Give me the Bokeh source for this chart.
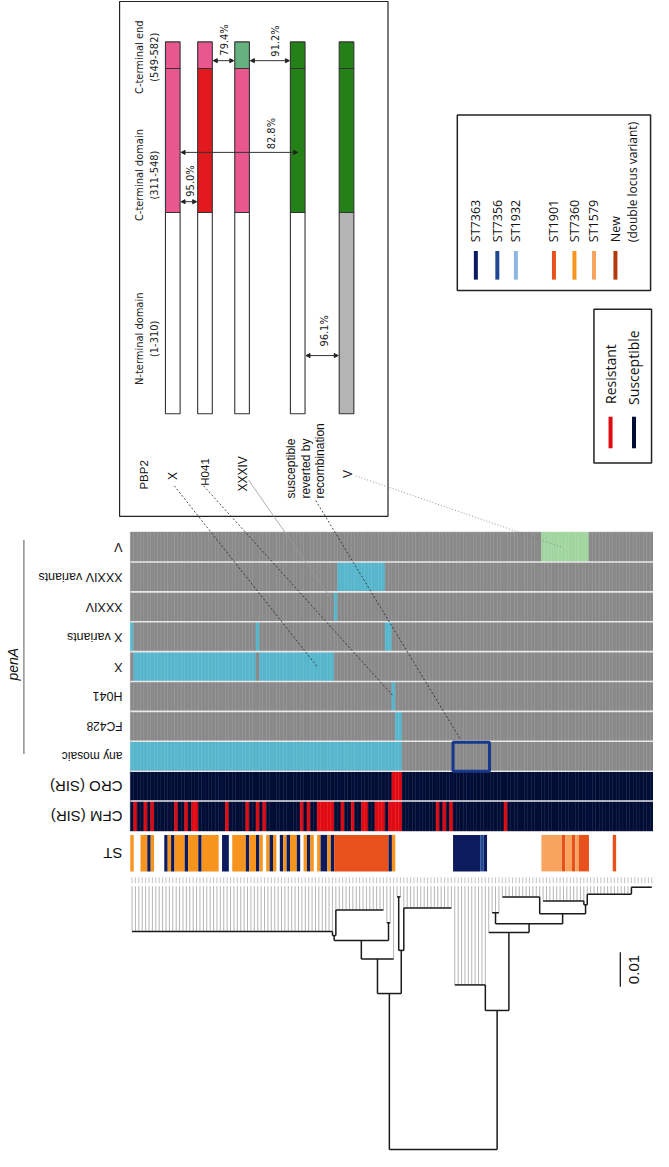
import numpy as np
from bokeh.plotting import figure
from bokeh.models import Range1d, ColumnDataSource, Arrow, NormalHead
from bokeh.core.properties import value
from bokeh.embed import file_html
from bokeh.resources import INLINE

# ======================= DATA =======================
N_ISOLATES = 154

row_names = ["V", "XXXIV variants", "XXXIV", "X variants", "X", "H041",
             "FC428", "any mosaic", "CRO (SIR)", "CFM (SIR)"]
# isolate index ranges [start, end) that carry the allele / resistance
V_hits = [(121, 135)]
XXXIV_var_hits = [(61, 75)]
XXXIV_hits = [(60, 61)]
X_var_hits = [(0, 1), (37, 38), (75, 77)]
X_hits = [(1, 37), (38, 60)]
H041_hits = [(77, 78)]
FC428_hits = [(78, 80)]
mosaic_hits = [(0, 80)]
CRO_resistant = [(77, 80)]
CFM_resistant = [(1, 2), (4, 5), (6, 7), (13, 14), (16, 17), (18, 20), (28, 29),
                 (34, 35), (37, 38), (39, 40), (50, 51), (52, 53), (55, 60),
                 (62, 63), (65, 66), (68, 70), (72, 75), (76, 80),
                 (90, 91), (92, 93), (94, 95), (110, 111)]

ST_segments = [(0, 1, "ST7360"), (3, 5, "ST7360"), (5, 6, "ST7363"), (6, 7, "ST7360"),
               (10, 11, "ST7363"), (11, 12, "ST7360"), (12, 13, "ST7363"),
               (13, 16, "ST7360"), (16, 17, "ST7363"), (17, 20, "ST7360"),
               (20, 21, "ST7363"), (21, 26, "ST7360"), (27, 29, "ST7363"),
               (30, 34, "ST7360"), (34, 35, "ST7363"), (35, 37, "ST7360"),
               (37, 38, "ST7363"), (38, 39, "ST7360"), (40, 41, "ST7360"),
               (41, 42, "ST7363"), (42, 43, "ST7360"), (44, 45, "ST7363"),
               (45, 46, "ST7360"), (46, 47, "ST7363"), (47, 49, "ST7360"),
               (49, 50, "ST7363"), (51, 52, "ST7360"), (52, 53, "ST7363"),
               (53, 54, "ST7360"), (55, 56, "ST7360"), (56, 58, "ST7363"),
               (58, 59, "ST7360"), (59, 60, "ST7363"), (60, 76, "ST1901"),
               (76, 77, "ST7363"), (77, 78, "ST7360"),
               (95, 103, "ST7363"), (103, 104, "ST7356"), (104, 105, "ST7363"),
               (121, 127, "ST1579"), (127, 128, "ST1901"), (128, 130, "ST1579"),
               (130, 131, "ST1901"), (131, 132, "ST1579"), (132, 135, "ST1901"),
               (142, 143, "ST1901")]

st_legend = ["ST7363", "ST7356", "ST1932", "ST1901", "ST7360", "ST1579", "New"]
st_colors = ["#0c1a5e", "#1f4794", "#8db7e2", "#e8511b", "#f7941d", "#f8a35e", "#b4390f"]

# phylogeny: (name, height above tips [subst/site], attach, children); ints are isolates
tree = ("root", 0.0763, "M", [
    ("A", 0.0311, "M", [
        ("A1", 0.0211, "M", [
            ("A1a", 0.0157, "M", [
                ("A1a_l", 0.0143, "M", [
                    ("big", 0.0131, "R", list(range(0, 60))),
                    ("c922", 0.0069, "L", list(range(60, 75))),
                ]),
                ("A1a_r", 0.0106, "M", [75, 76]),
            ]),
            77,
        ]),
        ("A2", 0.0186, "M", [
            ("n909", 0.0031, "M", [78, 79]),
            ("n920", 0.0063, "L", list(range(80, 95))),
        ]),
    ]),
    ("B", 0.0360, "M", [
        ("navy", 0.0286, "R", list(range(95, 105))),
        ("C", 0.0134, "M", [
            105,
            ("D", 0.0109, "M", [
                ("Dl", 0.0077, "M", [106, 107, 108]),
                ("E", 0.0080, "M", [
                    ("El", 0.0031, "R", list(range(109, 121))),
                    ("Er", 0.0054, "M", [
                        ("G", 0.0043, "R", list(range(121, 134))),
                        ("H", 0.0023, "L", list(range(134, 147)) +
                         [("H2", 0.0003, "L", list(range(147, 154)))]),
                    ]),
                ]),
            ]),
        ]),
    ]),
])
scale_bar = 0.01

# inset: PBP2 domain structure
bar_names = ["X", "H041", "XXXIV", "susceptible reverted by recombination", "V"]
domain_names = ["C-terminal end", "C-terminal domain", "N-terminal domain"]
domain_ranges = ["(549-582)", "(311-548)", "(1-310)"]
bar_domain_colors = [
    ["#e9578f", "#e9578f", "#ffffff"],
    ["#e9578f", "#e2191d", "#ffffff"],
    ["#66b17f", "#e9578f", "#ffffff"],
    ["#248118", "#248118", "#ffffff"],
    ["#248118", "#248118", "#b4b4b4"],
]
identity_labels = ["95.0%", "82.8%", "79.4%", "91.2%", "96.1%"]
identity_pairs = [(0, 1), (0, 3), (1, 2), (2, 3), (3, 4)]

# ======================= LAYOUT =======================
HX0, HX1 = 133.0, 669.0
CW = (HX1 - HX0) / N_ISOLATES
ROW_TOP0, ROW_H = 539.0, 30.3
ST_TOP, ST_BOT = 846.0, 883.0
TIP_Y = 898.0
PX_PER_SUB = 3500.0

GRAY, CYAN, LGREEN, NAVY, RED = "#898989", "#57b6cc", "#a0d5a0", "#020d35", "#e00b12"

row_sets = [V_hits, XXXIV_var_hits, XXXIV_hits, X_var_hits, X_hits, H041_hits,
            FC428_hits, mosaic_hits, CRO_resistant, CFM_resistant]
row_base = [GRAY] * 8 + [NAVY, NAVY]
row_hit = [LGREEN, CYAN, CYAN, CYAN, CYAN, CYAN, CYAN, CYAN, RED, RED]


def xi(i):
    return HX0 + (i + 0.5) * CW


p = figure(width=653, height=1151, x_range=Range1d(0, 669), y_range=Range1d(1167, 0),
           output_backend="svg", toolbar_location=None, x_axis_type=None, y_axis_type=None,
           min_border=0)
p.outline_line_color = None
p.grid.visible = False
p.background_fill_color = "white"

# ---------- heatmap ----------
L, R, T, B, F, LC = [], [], [], [], [], []
for r, (hits, base, hc) in enumerate(zip(row_sets, row_base, row_hit)):
    top = ROW_TOP0 + r * ROW_H
    for i in range(N_ISOLATES):
        on = any(a <= i < b for a, b in hits)
        c = hc if on else base
        L.append(HX0 + i * CW); R.append(HX0 + (i + 1) * CW)
        T.append(top); B.append(top + ROW_H)
        F.append(c)
        LC.append({GRAY: "#939393", NAVY: "#0b173f", CYAN: "#5cbacf",
                   LGREEN: "#a6d8a6", RED: "#e3141b"}[c])
p.quad(left=L, right=R, top=T, bottom=B, fill_color=F, line_color=LC, line_width=0.5)
# white separators between rows
sep_y = [ROW_TOP0 + r * ROW_H for r in range(1, len(row_names))]
p.segment(x0=[HX0] * len(sep_y), x1=[HX1] * len(sep_y), y0=sep_y, y1=sep_y,
          line_color="#e8e8e8", line_width=1.6)

# ST row
st_col = dict(zip(st_legend, st_colors))
p.quad(left=[HX0 + a * CW for a, b, s in ST_segments],
       right=[HX0 + b * CW for a, b, s in ST_segments],
       top=[ST_TOP] * len(ST_segments), bottom=[ST_BOT] * len(ST_segments),
       fill_color=[st_col[s] for a, b, s in ST_segments], line_color=None)

# row labels (rotated 180 deg)
lab_y = [ROW_TOP0 + (r + 0.5) * ROW_H for r in range(len(row_names))] + [(ST_TOP + ST_BOT) / 2]
lab_txt = row_names + ["ST"]
lab_size = ["12.5px"] * 6 + ["12px", "12px", "15px", "15px", "15px"]
p.text(x=[125] * len(lab_txt), y=lab_y, text=lab_txt, angle=np.pi,
       text_align="left", text_baseline="middle", text_font_size=lab_size,
       text_font=value("Liberation Sans"), text_color="#111111")
# penA group label
p.segment(x0=[24], x1=[24], y0=[547], y1=[764], line_color="#555555", line_width=1)
p.text(x=[13], y=[673], text=["penA"], angle=np.pi / 2, text_align="center",
       text_baseline="middle", text_font_size="14px", text_font_style="italic",
       text_font=value("Liberation Sans"), text_color="#111111")

# highlight box (susceptible reverted by recombination)
sq0, sq1 = 95, 106
mosaic_top = ROW_TOP0 + 7 * ROW_H
p.quad(left=[HX0 + sq0 * CW], right=[HX0 + sq1 * CW - 1], top=[mosaic_top + 1],
       bottom=[mosaic_top + ROW_H], fill_color=None, line_color="#17388c", line_width=3)

# ---------- tree ----------
tipv, intv, hor = [], [], []


def lay(node):
    if isinstance(node, int):
        return xi(node), TIP_Y, True
    name, h, attach, kids = node
    y = TIP_Y + h * PX_PER_SUB
    xs = []
    for k in kids:
        kx, ky, is_tip = lay(k)
        xs.append(kx)
        (tipv if is_tip else intv).append((kx, y, ky))
    hor.append((xs[0], xs[-1], y))
    x = {"L": xs[0], "R": xs[-1], "M": (xs[0] + xs[-1]) / 2}[attach]
    return x, y, False


lay(tree)
p.segment(x0=[a for a, b, c in tipv], x1=[a for a, b, c in tipv],
          y0=[b for a, b, c in tipv], y1=[c for a, b, c in tipv],
          line_color="#a3a3a3", line_width=0.8)
p.segment(x0=[a for a, b, c in intv], x1=[a for a, b, c in intv],
          y0=[b for a, b, c in intv], y1=[c for a, b, c in intv],
          line_color="#1a1a1a", line_width=1.5)
p.segment(x0=[a for a, b, c in hor], x1=[b for a, b, c in hor],
          y0=[c for a, b, c in hor], y1=[c for a, b, c in hor],
          line_color="#1a1a1a", line_width=1.5)
# tip labels (illegibly small in the original)
tx = [xi(i) for i in range(N_ISOLATES)]
p.segment(x0=tx, x1=tx, y0=[889] * N_ISOLATES, y1=[895] * N_ISOLATES,
          line_color="#c4c4c4", line_width=1)
# scale bar
p.segment(x0=[635], x1=[635], y0=[965], y1=[965 + scale_bar * PX_PER_SUB],
          line_color="#1a1a1a", line_width=1.3)
p.text(x=[649], y=[965 + scale_bar * PX_PER_SUB / 2], text=[f"{scale_bar:.2f}"],
       angle=np.pi / 2, text_align="center", text_baseline="middle",
       text_font_size="15px", text_font=value("Liberation Sans"), text_color="#111111")

# ---------- inset ----------
COND = value("Liberation Sans Narrow, DejaVu Sans Condensed, sans-serif")
p.quad(left=[122], right=[397], top=[1], bottom=[523], fill_color=None,
       line_color="#222222", line_width=1.2)
bar_x = [176.5, 209.5, 247.5, 304.5, 354.5]
BW = 15
dom_edges = [42, 69, 215, 419]
qL, qR, qT, qB, qF = [], [], [], [], []
for bi, bx in enumerate(bar_x):
    for d in range(3):
        qL.append(bx - BW / 2); qR.append(bx + BW / 2)
        qT.append(dom_edges[d]); qB.append(dom_edges[d + 1])
        qF.append(bar_domain_colors[bi][d])
p.quad(left=qL, right=qR, top=qT, bottom=qB, fill_color=qF, line_color="#333333",
       line_width=1.1)

dom_y = [(dom_edges[0] + dom_edges[1]) / 2 + 2, 177, 343]
p.text(x=[142] * 3, y=dom_y, text=domain_names, angle=np.pi / 2, text_align="center",
       text_baseline="middle", text_font_size="11px", text_font=COND, text_color="#222222")
p.text(x=[158] * 3, y=dom_y, text=domain_ranges, angle=np.pi / 2, text_align="center",
       text_baseline="middle", text_font_size="11px", text_font=COND, text_color="#222222")

# identity arrows
arr_y = [204, 154, 61, 61, 360]
arr_x0, arr_x1 = [], []
for (a, b) in identity_pairs:
    arr_x0.append(bar_x[a] + BW / 2 + 1)
    arr_x1.append(bar_x[b] - BW / 2 - 1)
arr_x1[1] = bar_x[3]
asrc = ColumnDataSource(dict(x0=arr_x0, x1=arr_x1, y=arr_y))
p.add_layout(Arrow(start=NormalHead(size=4, fill_color="#222222", line_color="#222222"),
                   end=NormalHead(size=4, fill_color="#222222", line_color="#222222"),
                   x_start="x0", y_start="y", x_end="x1", y_end="y", source=asrc,
                   line_color="#333333", line_width=1))
pct_x = [195, 278, 230, 282, 332]
pct_y = [183, 135, 40, 41, 335]
p.text(x=pct_x, y=pct_y, text=identity_labels, angle=np.pi / 2, text_align="center",
       text_baseline="middle", text_font_size="11px", text_font=COND, text_color="#222222")

# inset labels
p.text(x=[147, bar_x[0], bar_x[1], 248, 356], y=[481, 482, 478, 480, 480],
       text=["PBP2", "X", "H041", "XXXIV", "V"], angle=np.pi / 2, text_align="center",
       text_baseline="middle", text_font_size=["11.5px", "12px", "11.5px", "12px", "12px"],
       text_font=value("Liberation Sans"), text_color="#111111")
p.text(x=[298, 313, 327], y=[505, 505, 505], text=["susceptible", "reverted by", "recombination"],
       angle=np.pi / 2, text_align="left", text_baseline="middle", text_font_size="12px",
       text_font=value("Liberation Sans"), text_color="#111111")

# connectors from inset labels to heatmap cells
con_start = [(178, 492), (208, 492), (254, 486), (323, 507), (364, 482)]
con_target = [(4, 54.5), (5, 77.0), (2, 60.0), (7, 96.5), (0, 126.5)]
con_y_off = [0.5, 0.5, 0.45, 0.0, 0.5]
con_col = ["#222222", "#222222", "#9a9a9a", "#222222", "#7a7a7a"]
con_dash = ["2 2", "2 2", "solid", "2 2", "1 2"]
for (sx, sy), (rr, ii), off, c, dsh in zip(con_start, con_target, con_y_off, con_col, con_dash):
    ty = ROW_TOP0 + (rr + off) * ROW_H - (3 if off == 0 else 0)
    p.line(x=[sx, xi(ii)], y=[sy, ty], line_color=c, line_width=0.8, line_dash=dsh)

# ---------- legends ----------
p.quad(left=[468], right=[666], top=[116], bottom=[294], fill_color=None,
       line_color="#222222", line_width=1.5)
leg_x = [487, 509, 528, 567, 588, 608, 630]
p.segment(x0=leg_x, x1=leg_x, y0=[254] * 7, y1=[283] * 7, line_color=st_colors, line_width=4)
p.text(x=leg_x, y=[245] * 7, text=st_legend, angle=np.pi / 2, text_align="left",
       text_baseline="middle", text_font_size="12.5px", text_font=value("Open Sans"),
       text_color="#111111")
p.text(x=[647], y=[245], text=["(double locus variant)"], angle=np.pi / 2, text_align="left",
       text_baseline="middle", text_font_size="12px", text_font=value("Open Sans"),
       text_color="#111111")

p.quad(left=[608], right=[667], top=[313], bottom=[469], fill_color=None,
       line_color="#222222", line_width=1.5)
p.segment(x0=[625, 649], x1=[625, 649], y0=[422, 422], y1=[454, 454],
          line_color=[RED, NAVY], line_width=4)
p.text(x=[625, 649], y=[409, 410], text=["Resistant", "Susceptible"], angle=np.pi / 2,
       text_align="left", text_baseline="middle", text_font_size="14px",
       text_font=value("Open Sans"), text_color="#111111")

open("out.html", "w").write(file_html(p, INLINE))
